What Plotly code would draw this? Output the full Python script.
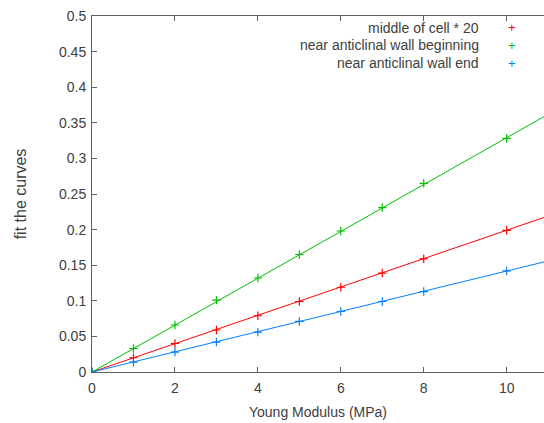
import plotly.graph_objects as go

x_pts = [0, 1, 2, 3, 4, 5, 6, 7, 8, 10]
red_pts = [0, 0.020, 0.040, 0.059, 0.079, 0.099, 0.119, 0.139, 0.159, 0.199]
green_pts = [0, 0.033, 0.066, 0.101, 0.132, 0.165, 0.198, 0.231, 0.265, 0.328]
blue_pts = [0, 0.014, 0.028, 0.042, 0.056, 0.071, 0.085, 0.099, 0.113, 0.142]

fit_x = [0, 11]
red_fit = [0, 0.219]
green_fit = [0, 0.362]
blue_fit = [0, 0.156]

names = ["middle of cell * 20", "near anticlinal wall beginning", "near anticlinal wall end"]
colors = ["#ff0000", "#00c000", "#0080ff"]

fig = go.Figure()
for pts, fit, c in zip([red_pts, green_pts, blue_pts], [red_fit, green_fit, blue_fit], colors):
    fig.add_trace(go.Scatter(x=fit_x, y=fit, mode="lines", line=dict(color=c, width=1),
                             showlegend=False, hoverinfo="skip"))
    fig.add_trace(go.Scatter(x=x_pts, y=pts, mode="markers",
                             marker=dict(symbol="cross-thin", size=6, line=dict(color=c, width=1.2)),
                             showlegend=False))

FAM = "Liberation Sans, Arial, sans-serif"
font = dict(family=FAM, size=14, color="#404040")
ann = []
for i, (n, c) in enumerate(zip(names, colors)):
    y = 28 + i * 17.5
    ann.append(dict(xref="paper", yref="paper", x=(481 - 92) / 452, y=1 - (y - 16) / 356,
                    text=n, showarrow=False, xanchor="right", yanchor="middle", font=font))
    ann.append(dict(xref="paper", yref="paper", x=(512 - 92) / 452, y=1 - (y - 16) / 356,
                    text="+", showarrow=False, xanchor="center", yanchor="middle",
                    font=dict(family=FAM, size=13, color=c)))

axis_common = dict(showgrid=False, zeroline=False, showline=True, linecolor="#606060", linewidth=1,
                   ticks="inside", ticklen=5, tickcolor="#606060", tickfont=font)
fig.update_layout(
    width=544, height=423,
    margin=dict(l=92, r=0, t=16, b=51),
    plot_bgcolor="white", paper_bgcolor="white",
    xaxis=dict(range=[0, 10.9], dtick=2, mirror="ticks", ticklabelstandoff=3,
               title=dict(text="Young Modulus (MPa)", font=font, standoff=12), **axis_common),
    yaxis=dict(range=[0, 0.5], dtick=0.05, tickformat="~g", ticklabelstandoff=2,
               title=dict(text="fit the curves", font=dict(family=FAM, size=16, color="#404040"),
                          standoff=28), **axis_common),
    annotations=ann,
)
fig.write_html("out.html", config={"displayModeBar": False},
               post_script="document.body.style.margin='0';document.body.style.overflow='hidden';")
